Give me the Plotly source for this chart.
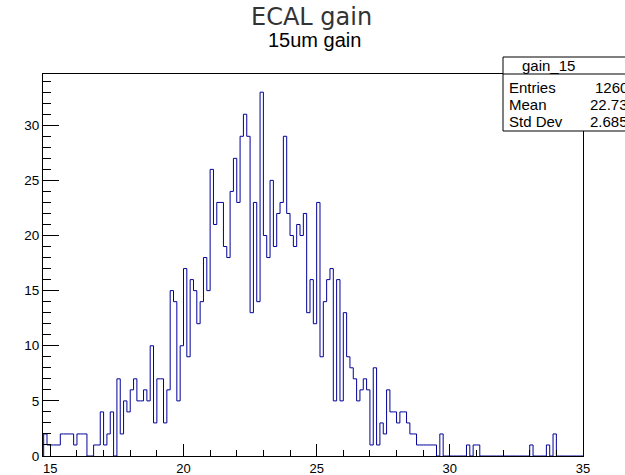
import plotly.graph_objects as go

# ---- data ----
bin_low = 14.75
bin_width = 0.125
counts = [
    2, 1, 1, 1, 1, 2, 2, 2, 2, 1,
    2, 2, 2, 0, 0, 1, 1, 4, 1, 2,
    4, 0, 7, 2, 5, 4, 6, 7, 5, 5,
    6, 5, 10, 3, 7, 7, 3, 6, 15, 14,
    5, 10, 17, 9, 16, 15, 12, 14, 18, 15,
    26, 21, 23, 23, 19, 18, 24, 27, 23, 29,
    31, 29, 13, 23, 14, 33, 20, 18, 25, 19,
    22, 23, 29, 22, 20, 19, 21, 20, 22, 13,
    16, 12, 23, 9, 14, 16, 17, 5, 16, 5,
    13, 9, 8, 7, 5, 6, 7, 6, 1, 8,
    1, 3, 2, 6, 4, 4, 3, 4, 4, 3,
    2, 2, 1, 1, 1, 1, 1, 1, 0, 2,
    0, 0, 0, 0, 0, 0, 0, 1, 0, 1,
    1, 0, 0, 0, 0, 0, 0, 0, 0, 0,
    0, 0, 0, 0, 0, 0, 1, 0, 0, 0,
    0, 1, 0, 2, 0, 0, 0, 0, 0, 0,
    0, 0,
]
title_text = "ECAL gain"
subtitle_text = "15um gain"
stats_name = "gain_15"
stats_labels = ["Entries", "Mean", "Std Dev"]
stats_values = ["1260", "22.73", "2.685"]
x_range = [14.725, 35.0]

# ---- build step outline ----
n = len(counts)
edges = [bin_low + i * bin_width for i in range(n + 1)]
xs = [edges[0]] + edges
ys = [0] + counts + [counts[-1]]
xs.append(edges[-1])
ys.append(0)

W, H = 625, 475
L, R, T, B = 43, 42, 74, 19
pw, ph = W - L - R, H - T - B

def px(x):
    return (x - L) / pw

def py(y):
    return (H - B - y) / ph

fig = go.Figure()
fig.add_trace(go.Scatter(
    x=xs, y=ys, mode="lines", line_shape="hv",
    line=dict(color="#000099", width=1), hoverinfo="skip", showlegend=False,
))

ymax = max(counts) * 1.05
font = "Liberation Sans, Arial, sans-serif"
fig.update_layout(
    width=W, height=H,
    margin=dict(l=L, r=R, t=T, b=B, pad=0, autoexpand=False),
    paper_bgcolor="white", plot_bgcolor="white",
    font=dict(family=font, size=13, color="black"),
    xaxis=dict(
        range=x_range, showgrid=False, zeroline=False, automargin=False,
        showline=True, linecolor="black", linewidth=1, mirror=True,
        ticks="inside", ticklen=12, tickcolor="black", tickwidth=1,
        tick0=15, dtick=5, tickfont=dict(size=13),
        minor=dict(ticks="inside", ticklen=6, dtick=1, tick0=15, tickcolor="black", showgrid=False),
    ),
    yaxis=dict(
        range=[0, ymax], showgrid=False, zeroline=False, automargin=False,
        showline=True, linecolor="black", linewidth=1, mirror=True,
        ticks="inside", ticklen=16, tickcolor="black", tickwidth=1,
        tick0=0, dtick=5, tickfont=dict(size=13.5),
        minor=dict(ticks="inside", ticklen=8, dtick=1, tick0=0, tickcolor="black", showgrid=False),
    ),
)

# titles
fig.add_annotation(text=title_text, xref="paper", yref="paper",
                   x=px(311), y=py(17), xanchor="center", yanchor="middle",
                   showarrow=False, font=dict(family="DejaVu Sans", size=24, color="#333"))
fig.add_annotation(text=subtitle_text, xref="paper", yref="paper",
                   x=px(314), y=py(40), xanchor="center", yanchor="middle",
                   showarrow=False, font=dict(family=font, size=20, color="black"))

# stats box
bx0, bx1 = 503, 660
by0, bsep, by1 = 57, 74, 131
fig.add_shape(type="rect", xref="paper", yref="paper",
              x0=px(bx0), x1=px(bx1), y0=py(by1), y1=py(by0),
              line=dict(color="black", width=1), fillcolor="white", layer="above")
fig.add_shape(type="line", xref="paper", yref="paper",
              x0=px(bx0), x1=px(bx1), y0=py(bsep), y1=py(bsep),
              line=dict(color="black", width=1), layer="above")
fig.add_annotation(text=stats_name, xref="paper", yref="paper",
                   x=px(548), y=py(65.5), xanchor="center", yanchor="middle",
                   showarrow=False, font=dict(family=font, size=15))
row_y = [87, 104, 121]
for lab, val, yy in zip(stats_labels, stats_values, row_y):
    fig.add_annotation(text=lab, xref="paper", yref="paper",
                       x=px(507), y=py(yy), xanchor="left", yanchor="middle",
                       showarrow=False, font=dict(family=font, size=15))
    fig.add_annotation(text=val, xref="paper", yref="paper",
                       x=px(630), y=py(yy), xanchor="right", yanchor="middle",
                       showarrow=False, font=dict(family=font, size=15))

fig.write_html("out.html")
